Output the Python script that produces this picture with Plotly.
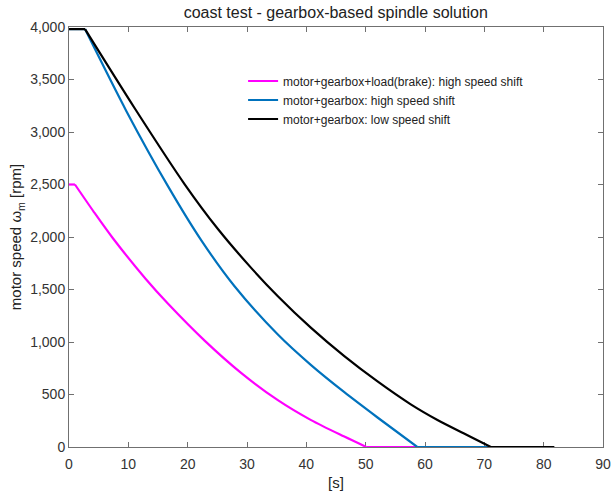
import plotly.graph_objects as go

# Time [s] and motor speed [rpm]
t_brake = [0, 1.0, 4.2, 7.4, 12.9, 16.7, 22.9, 29.0, 35.2, 40.8, 46.4, 50.1, 59.0]
v_brake = [2500, 2500, 2238, 1988, 1603, 1364, 1011, 706, 446, 256, 99, 0, 0]

t_high = [0, 2.7, 9.7, 16.7, 22.3, 27.9, 35.2, 40.8, 46.4, 52.0, 58.7, 71.0]
v_high = [3980, 3980, 3196, 2482, 1968, 1531, 1071, 780, 522, 281, 0, 0]

t_low = [0, 2.7, 11.1, 19.5, 25.1, 30.7, 35.2, 40.8, 46.4, 52.0, 57.6, 62.1, 66.5, 69.5, 71.1, 81.8]
v_low = [3980, 3980, 3224, 2502, 2076, 1706, 1436, 1134, 865, 624, 406, 257, 130, 45, 0, 0]

names = [
    "motor+gearbox+load(brake): high speed shift",
    "motor+gearbox: high speed shift",
    "motor+gearbox: low speed shift",
]
colors = ["#FF00FF", "#0072BD", "#000000"]

x_ticks = [0, 10, 20, 30, 40, 50, 60, 70, 80, 90]
y_ticks = [0, 500, 1000, 1500, 2000, 2500, 3000, 3500, 4000]

fig = go.Figure()
for t, v, n, c in zip([t_brake, t_high, t_low], [v_brake, v_high, v_low], names, colors):
    # flat start, smooth coast-down, flat end
    fig.add_trace(go.Scatter(x=t[:2], y=v[:2], mode="lines", legendgroup=n, showlegend=False,
                             line=dict(color=c, width=2.2), hoverinfo="skip"))
    fig.add_trace(go.Scatter(x=t[1:-1], y=v[1:-1], mode="lines", name=n, legendgroup=n,
                             line=dict(color=c, width=2.2, shape="spline", smoothing=0.8)))
    fig.add_trace(go.Scatter(x=t[-2:], y=v[-2:], mode="lines", legendgroup=n, showlegend=False,
                             line=dict(color=c, width=2.2), hoverinfo="skip"))

axis_common = dict(
    showline=True, linecolor="#707070", linewidth=1, mirror="allticks",
    ticks="inside", ticklen=5, tickcolor="#707070", showgrid=False, zeroline=False,
    tickfont=dict(family="Liberation Sans, Arial", size=14, color="#333333"),
    layer="below traces", automargin=False,
)

fig.update_layout(
    width=616, height=497,
    margin=dict(l=69, r=13, t=27, b=50),
    paper_bgcolor="white", plot_bgcolor="white",
    font=dict(family="Liberation Sans, Arial", size=14, color="#222222"),
    title=dict(text="coast test - gearbox-based spindle solution", x=0.545, xanchor="center",
               xref="container", y=0.976, yanchor="middle",
               font=dict(size=16, color="#222222")),
    xaxis=dict(range=[0, 90], tickvals=x_ticks, ticklabelstandoff=4,
               title=dict(text="[s]", standoff=6, font=dict(size=15)), **axis_common),
    yaxis=dict(range=[0, 4000], tickvals=y_ticks, tickformat=",",
               title=dict(text="motor speed ω<sub>m</sub> [rpm]", standoff=4, font=dict(size=15)),
               **axis_common),
    legend=dict(x=0.326, y=0.906, xanchor="left", yanchor="top", bgcolor="rgba(0,0,0,0)",
                font=dict(size=12, color="#222222"), tracegroupgap=0, itemwidth=30),
    showlegend=True,
)

fig.write_html("out.html", config={"displayModeBar": False},
               post_script="document.body.style.margin='0';")
